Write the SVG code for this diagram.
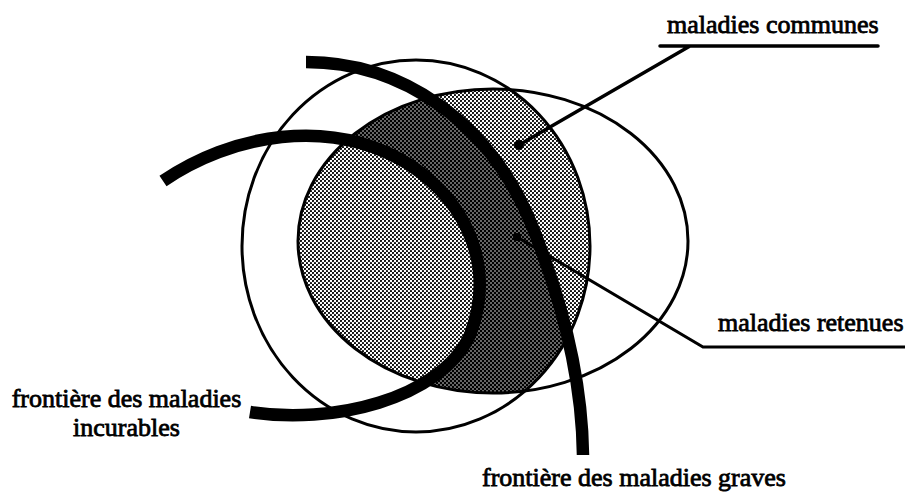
<svg xmlns="http://www.w3.org/2000/svg" width="905" height="498" viewBox="0 0 905 498">
<defs>
<pattern id="light" patternUnits="userSpaceOnUse" width="4" height="4">
<rect width="4" height="4" fill="#fff"/>
<circle cx="1" cy="1" r="1.1" fill="#000"/>
<circle cx="3" cy="3" r="1.1" fill="#000"/>
</pattern>
<pattern id="dark" patternUnits="userSpaceOnUse" width="4" height="4">
<rect width="4" height="4" fill="#000"/>
<circle cx="1" cy="1" r="0.75" fill="#fff"/>
<circle cx="3" cy="3" r="0.75" fill="#fff"/>
</pattern>
<clipPath id="clipA"><ellipse cx="416" cy="246" rx="174" ry="186"/></clipPath>
<clipPath id="clipB"><ellipse cx="493" cy="241" rx="195" ry="152"/></clipPath>
<style>
.thin{fill:none;stroke:#000;stroke-width:3}
.thick{fill:none;stroke:#000;stroke-width:12.5;stroke-linecap:butt}
.ptr{fill:none;stroke:#000;stroke-width:3.5;stroke-linecap:round}
.lbl{font-size:26px;fill:#000;stroke:#000;stroke-width:0.8}
</style>
</defs>
<rect width="905" height="498" fill="#fff"/>
<g id="shading" clip-path="url(#clipA)">
<g clip-path="url(#clipB)">
<rect id="maladies-communes-area" x="280" y="80" width="420" height="330" fill="url(#light)"/>
<path id="maladies-retenues-area" d="M306 62 C400 62 490 120 533 228 L549 285 C563 315 570 345 553 366 C540 381 525 392 505 400 L150 440 L150 30 L306 30 Z" fill="url(#dark)"/>
<path id="incurables-area" d="M163 181 C230 135 330 115 410 165 C470 205 495 270 470 335 C440 400 330 425 250 412 Z" fill="url(#light)"/>
</g>
</g>
<g id="ensemble-A"><ellipse class="thin" cx="416" cy="246" rx="174" ry="186"/></g>
<g id="ensemble-B"><ellipse class="thin" cx="493" cy="241" rx="195" ry="152"/></g>
<g id="frontiere-incurables"><path class="thick" d="M163 181 C230 135 330 115 410 165 C470 205 495 270 470 335 C440 400 330 425 250 412"/></g>
<g id="frontiere-graves"><path class="thick" d="M306 62 C400 62 490 120 533 228 C558 291 582 370 583 455"/></g>
<g id="connectors">
<path class="ptr" d="M878 46 L660 46 M690 46 L519 145"/>
<circle cx="519" cy="145" r="5" fill="#000"/>
<path class="ptr" style="stroke-width:3" d="M905 347 L703 347 L517 237"/>
<circle cx="517" cy="237" r="4" fill="#000"/>
</g>
<g id="labels" font-family="'Liberation Serif', 'Times New Roman', 'DejaVu Serif', serif">
<text class="lbl" x="667" y="33">maladies communes</text>
<text class="lbl" x="718" y="331">maladies retenues</text>
<text class="lbl" x="126.5" y="407" text-anchor="middle">frontière des maladies</text>
<text class="lbl" x="126.5" y="436" text-anchor="middle">incurables</text>
<text class="lbl" x="482" y="486">frontière des maladies graves</text>
</g>
</svg>
